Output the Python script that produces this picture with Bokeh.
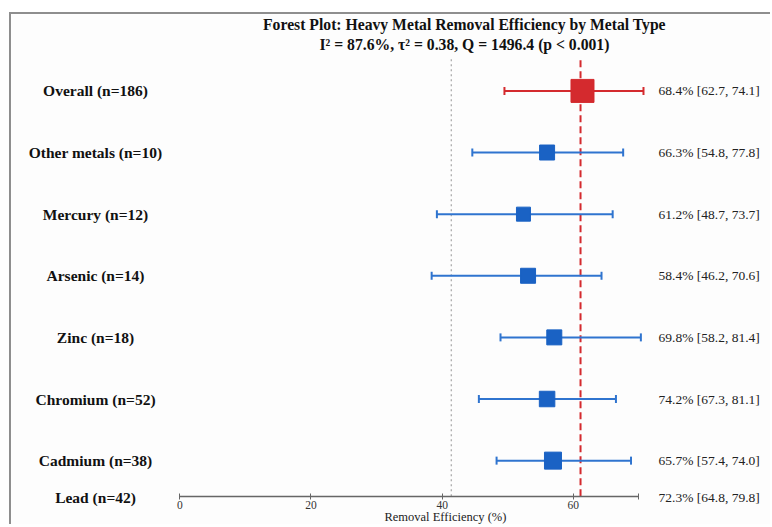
import numpy as np
from bokeh.plotting import figure
from bokeh.models import Range1d, LinearAxis, FixedTicker, ColumnDataSource
from bokeh.core.properties import value
from bokeh.embed import file_html
from bokeh.resources import INLINE

# ---------------- data ----------------
labels = ["Overall (n=186)", "Other metals (n=10)", "Mercury (n=12)", "Arsenic (n=14)",
          "Zinc (n=18)", "Chromium (n=52)", "Cadmium (n=38)", "Lead (n=42)"]
ci_text = ["68.4% [62.7, 74.1]", "66.3% [54.8, 77.8]", "61.2% [48.7, 73.7]", "58.4% [46.2, 70.6]",
           "69.8% [58.2, 81.4]", "74.2% [67.3, 81.1]", "65.7% [57.4, 74.0]", "72.3% [64.8, 79.8]"]
est = [61.4, 56.0, 52.4, 53.1, 57.1, 56.0, 56.9, np.nan]
lo = [49.5, 44.6, 39.2, 38.4, 48.9, 45.6, 48.3, np.nan]
hi = [70.7, 67.6, 66.0, 64.3, 70.3, 66.5, 68.8, np.nan]
pooled_line = 61.1
null_line = 41.4
x_ticks = [0, 20, 40, 60, 70]
title1 = "Forest Plot: Heavy Metal Removal Efficiency by Metal Type"
title2 = "I\u00b2 = 87.6%, \u03c4\u00b2 = 0.38, Q = 1496.4 (p < 0.001)"
x_title = "Removal Efficiency (%)"

# ---------------- styles ----------------
SERIF = value("Liberation Serif")
box_px = [23, 15, 14, 15, 15, 15.5, 17, 15]
RED = "#d42a2e"
BLUE_BOX = "#1a62c4"
BLUE_LINE = "#2f74cf"

n = len(labels)
rows = np.arange(n)[::-1].astype(float)          # Overall on top, Lead at the bottom
y_top = 8.240
y_min = -0.069
axis_y = 0.42
row_lab = np.maximum(rows, axis_y - 0.02)         # last row's labels sit on the axis line
colors_box = [RED] + [BLUE_BOX] * (n - 1)
colors_line = [RED] + [BLUE_LINE] * (n - 1)

src = ColumnDataSource(dict(y=rows, ylab=row_lab, est=est, lo=lo, hi=hi, lab=labels,
                            ci=ci_text, size=box_px, cb=colors_box, cl=colors_line,
                            xl=[-12.85] * n, xr=[73.0] * n))

p = figure(width=761, height=512, x_range=Range1d(-25.66, 90.37), y_range=Range1d(y_min, y_top),
           output_backend="svg", toolbar_location=None, x_axis_location=None, y_axis_location=None,
           min_border_left=0, min_border_right=0, min_border_top=0, min_border_bottom=0)
p.styles = {"border-left": "2px solid #8e8e8e", "border-top": "2px solid #8e8e8e"}
p.margin = (12, 0, 0, 9)
p.outline_line_color = None
p.grid.visible = False
p.background_fill_color = "#fdfdfd"
p.border_fill_color = "#fdfdfd"

ref_top = y_top - 0.689
p.segment(x0=[null_line], x1=[null_line], y0=[axis_y], y1=[ref_top], line_color="#b0b0b0",
          line_width=1.4, line_dash="2 3")
p.segment(x0=[pooled_line], x1=[pooled_line], y0=[axis_y], y1=[ref_top], line_color=RED,
          line_width=2, line_dash="7 4")

p.segment(x0="lo", x1="hi", y0="y", y1="y", line_color="cl", line_width=2, source=src)
p.scatter(x="lo", y="y", marker="dash", angle=np.pi / 2, size=8, line_color="cl", line_width=2, source=src)
p.scatter(x="hi", y="y", marker="dash", angle=np.pi / 2, size=8, line_color="cl", line_width=2, source=src)
p.scatter(x="est", y="y", marker="square", size="size", fill_color="cb", line_color="cb", source=src)

p.text(x="xl", y="ylab", text="lab", source=src, text_font=SERIF, text_font_style="bold",
       text_font_size="15.5px", text_align="center", text_baseline="middle", text_color="#111111")
p.text(x="xr", y="ylab", text="ci", source=src, text_font=SERIF, text_font_size="13.5px",
       text_align="left", text_baseline="middle", text_color="#222222")

p.text(x=[43.4], y=[y_top - 0.170], text=[title1], text_font=SERIF, text_font_style="bold",
       text_font_size="15.7px", text_align="center", text_baseline="middle", text_color="#111111")
p.text(x=[43.4], y=[y_top - 0.486], text=[title2], text_font=SERIF, text_font_style="bold",
       text_font_size="15.7px", text_align="center", text_baseline="middle", text_color="#111111")

ax = LinearAxis(bounds=(0, 70), ticker=FixedTicker(ticks=x_ticks),
                major_label_overrides={70: ""}, fixed_location=axis_y)
ax.axis_line_color = "#666666"
ax.axis_line_width = 1.5
ax.major_tick_line_color = "#666666"
ax.major_tick_in = 3
ax.major_tick_out = 3
ax.minor_tick_line_color = None
ax.major_label_standoff = 2
ax.major_label_text_font = "Liberation Serif"
ax.major_label_text_font_size = "11.5px"
ax.major_label_text_color = "#333333"
p.add_layout(ax, "below")

p.text(x=[40.5], y=[axis_y - 0.34], text=[x_title], text_font=SERIF, text_font_size="12.5px",
       text_align="center", text_baseline="middle", text_color="#222222")

open("out.html", "w").write(file_html(p, INLINE))
